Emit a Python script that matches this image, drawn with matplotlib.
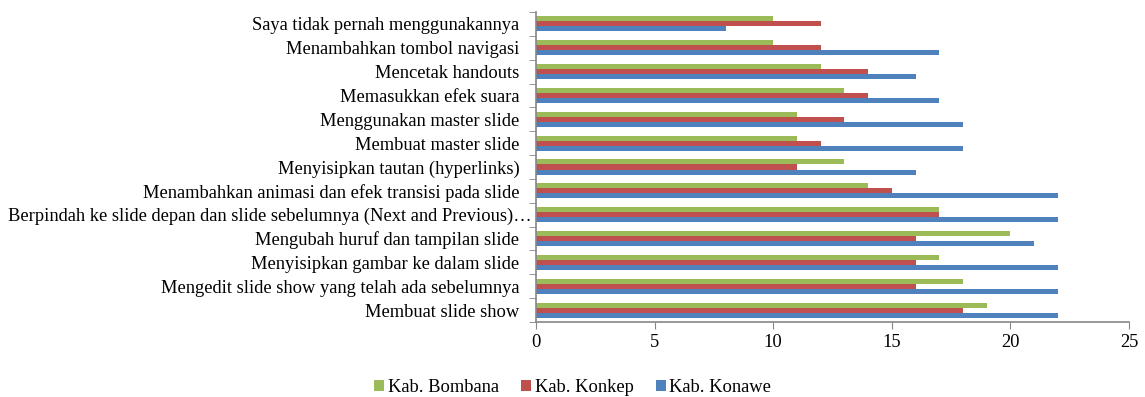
import matplotlib.pyplot as plt
import matplotlib.transforms as mtransforms
import numpy as np

plt.rcParams['font.family'] = ['Liberation Serif', 'DejaVu Serif']

# Kategori (dari bawah ke atas)
kategori = [
    'Membuat slide show',
    'Mengedit slide show yang telah ada sebelumnya',
    'Menyisipkan gambar ke dalam slide',
    'Mengubah huruf dan tampilan slide',
    'Berpindah ke slide depan dan slide sebelumnya (Next and Previous)\u2026',
    'Menambahkan animasi dan efek transisi pada slide',
    'Menyisipkan tautan (hyperlinks)',
    'Membuat master slide',
    'Menggunakan master slide',
    'Memasukkan efek suara',
    'Mencetak handouts',
    'Menambahkan tombol navigasi',
    'Saya tidak pernah menggunakannya',
]
konawe = [22, 22, 22, 21, 22, 22, 16, 18, 18, 17, 16, 17, 8]
konkep = [18, 16, 16, 16, 17, 15, 11, 12, 13, 14, 14, 12, 12]
bombana = [19, 18, 17, 20, 17, 14, 13, 11, 11, 13, 12, 10, 10]

fig = plt.figure(figsize=(11.45, 3.97), dpi=100)
ax = fig.add_axes([536 / 1145, 1 - 322 / 397, (1129 - 536) / 1145, (322 - 12) / 397])

y = np.arange(len(kategori))
h = 0.21
ax.barh(y - h, konawe, h, color='#4F81BD', label='Kab. Konawe')
ax.barh(y, konkep, h, color='#C0504D', label='Kab. Konkep')
ax.barh(y + h, bombana, h, color='#9BBB59', label='Kab. Bombana')

ax.set_xlim(0, 25)
ax.set_ylim(-0.5, len(kategori) - 0.5)
ax.set_xticks(range(0, 26, 5))
ax.set_yticks(y)
ax.set_yticklabels(kategori)
ax.set_yticks(np.arange(-0.5, len(kategori), 1), minor=True)
ax.tick_params(axis='y', which='major', length=0, labelsize=13.3, pad=12)
ax.tick_params(axis='y', which='minor', length=5, color='#868686', direction='out')
ax.tick_params(axis='x', labelsize=13.3, length=5, color='#868686', direction='out')

# label panjang (terpotong) sedikit menempel ke sumbu seperti aslinya
geser = mtransforms.ScaledTranslation(9 / 72, 0, fig.dpi_scale_trans)
for lbl in ax.get_yticklabels():
    if lbl.get_text().startswith('Berpindah'):
        lbl.set_transform(lbl.get_transform() + geser)

for s in ['top', 'right']:
    ax.spines[s].set_visible(False)
for s in ['left', 'bottom']:
    ax.spines[s].set_color('#868686')
    ax.spines[s].set_linewidth(1.2)

handles, labels = ax.get_legend_handles_labels()
fig.legend(handles[::-1], labels[::-1], loc='lower center', bbox_to_anchor=(0.5, -0.04),
           ncol=3, frameon=False, fontsize=13.3, handlelength=0.55, handleheight=0.55,
           handletextpad=0.2, columnspacing=1.2)

plt.savefig('out.png', dpi=100)
